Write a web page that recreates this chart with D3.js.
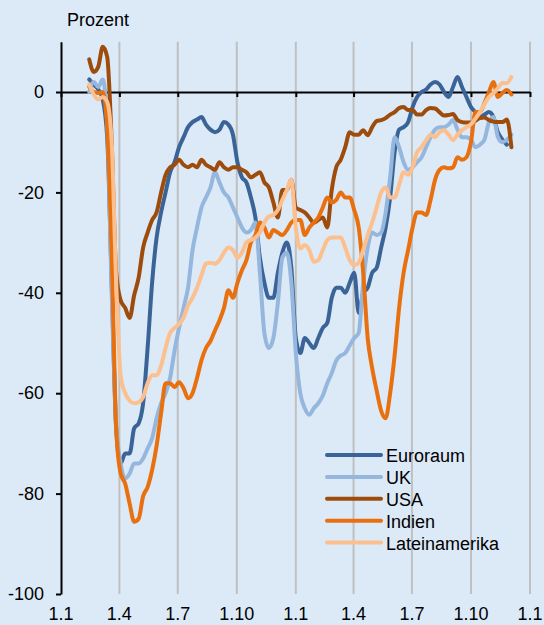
<!DOCTYPE html>
<html>
<head>
<meta charset="utf-8">
<script src="https://cdn.jsdelivr.net/npm/d3@7"></script>
<style>
  body { margin: 0; background: #dce9f7; }
  svg { display: block; font-family: "Liberation Sans", Arial, sans-serif; }
</style>
</head>
<body>
<div id="visual"></div>
<script>
// weekly dates (7-day averages)
const weeks = [
  "2020-02-14","2020-02-21","2020-02-28","2020-03-06","2020-03-13","2020-03-20","2020-03-27","2020-04-03","2020-04-10","2020-04-17",
  "2020-04-24","2020-05-01","2020-05-08","2020-05-15","2020-05-22","2020-05-29","2020-06-05","2020-06-12","2020-06-19","2020-06-26",
  "2020-07-03","2020-07-10","2020-07-17","2020-07-24","2020-07-31","2020-08-07","2020-08-14","2020-08-21","2020-08-28","2020-09-04",
  "2020-09-11","2020-09-18","2020-09-25","2020-10-02","2020-10-09","2020-10-16","2020-10-23","2020-10-30","2020-11-06","2020-11-13",
  "2020-11-20","2020-11-27","2020-12-04","2020-12-11","2020-12-18","2020-12-25","2021-01-01","2021-01-08","2021-01-15","2021-01-22",
  "2021-01-29","2021-02-05","2021-02-12","2021-02-19","2021-02-26","2021-03-05","2021-03-12","2021-03-19","2021-03-26","2021-04-02",
  "2021-04-09","2021-04-16","2021-04-23","2021-04-30","2021-05-07","2021-05-14","2021-05-21","2021-05-28","2021-06-04","2021-06-11",
  "2021-06-18","2021-06-25","2021-07-02","2021-07-09","2021-07-16","2021-07-23","2021-07-30","2021-08-06","2021-08-13","2021-08-20",
  "2021-08-27","2021-09-03","2021-09-10","2021-09-17","2021-09-24","2021-10-01","2021-10-08","2021-10-15","2021-10-22","2021-10-29",
  "2021-11-05","2021-11-12","2021-11-19","2021-11-26","2021-12-03","2021-12-10"
];

const euroraum = [
  2.5,1.5,0.5,-1.5,-9,-38,-67,-74,-72,-72,
  -67,-66,-62,-51,-38,-29,-24,-20,-16,-14,
  -11,-9,-7,-6,-5.5,-5,-6.5,-7.5,-8,-7.5,
  -6,-6.5,-8.5,-14,-17,-18,-21,-25,-33,-38,
  -41,-41,-36,-32,-30,-35,-49,-52,-49,-50,
  -51,-49,-47,-46,-41,-39,-39,-40,-38,-36,
  -44,-40,-39,-36,-35,-31,-27,-21,-12,-7.5,
  -7,-6,-3,-1,0,0.5,1.5,2,1.5,0,
  -1,1,3,1,-1,-3,-4,-5,-4.5,-4,
  -5,-8,-9.5,-10.5,null,null
];
const uk = [
  0,2,1,2.5,-6,-40,-66,-74,-77,-76,
  -74,-74,-73,-71,-69,-65,-62,-60,-57,-51.5,
  -47,-43,-39,-31.5,-27,-23,-21,-19,-16,-18,
  -20,-21,-23,-25,-27,-28,-27.5,-26,-36,-48,
  -51,-49,-42,-33,-32,-38,-52,-60,-63,-64.3,
  -63,-62,-60.5,-58,-56,-53.5,-52.5,-52,-50.5,-49,
  -48,-38,-31,-28,-28.5,-28,-24,-17,-9,-11,
  -14,-15.5,-15,-14,-13,-11,-9,-7.5,-7,-7,
  -6.5,-5.6,-7.5,-9,-9,-9.5,-11,-10.5,-9.5,-6,
  -5,-9,-10,-9.5,-8.5,null
];
const usa = [
  6.5,4,5,9,7,-10,-36,-41.5,-43,-45,
  -40.5,-37,-31,-28,-25.5,-24,-20,-16.5,-15,-14.5,
  -13.5,-14.5,-15,-14.5,-15,-13.5,-14.5,-15,-15.5,-14,
  -15,-15.5,-15,-15,-15.5,-16,-17,-16.5,-16,-18,
  -19,-22,-25,-19.5,-19.5,-17.5,-23,-23.5,-24,-25,
  -26,-25.5,-25,-27,-19.5,-15,-13.5,-11,-8,-8.5,
  -8.5,-7.6,-8.6,-7,-5.8,-5.6,-5.2,-4.5,-4,-3.2,
  -3,-3.6,-3.6,-4.5,-4.5,-3.6,-3.2,-3.3,-4,-4.7,
  -4.6,-4.4,-5.6,-6,-6.1,-6.1,-5.7,-5.2,-5.1,-5.6,
  -5.9,-6,-6,-5.5,-11,null
];
const indien = [
  1,0,-0.2,0,-7,-32,-67,-76,-78,-82,
  -85.6,-85,-80.5,-78.7,-75.3,-70.5,-64,-58,-58,-58.8,
  -57.8,-59,-61,-60,-57,-53.4,-51,-49.6,-47.5,-45.5,
  -43,-39.5,-41,-38,-35.5,-33.5,-30,-28.5,-26,-27,
  -29,-27.5,-28,-28.5,-27.5,-26,-25.5,-25.5,-28.5,-27,
  -26,-25,-23,-21,-22,-21.5,-20,-21,-21,-23.5,
  -27,-36,-49,-55,-59.5,-63.5,-65,-60,-52.5,-43,
  -36,-31.5,-27,-24,-24,-24.5,-21.5,-17.5,-15.5,-15,
  -15.2,-15,-13,-13.5,-13,-10,-4,-4,-2.2,0,
  2,-1,-0.2,0.4,-0.5,null
];
const lateinamerika = [
  1.5,-0.5,-1.5,-1,-2,-10,-38,-56.5,-60,-61.5,
  -62,-61.8,-60.8,-58,-56.4,-56.4,-54.5,-51,-48,-47,
  -46.2,-45,-42.5,-41,-39,-36.5,-34.2,-34,-34.2,-33.5,
  -32,-31,-31.5,-33,-32,-30,-29.5,-29,-28,-26,
  -24.8,-24.5,-23.5,-21.5,-19.5,-17.5,-27,-31.2,-30.5,-31.5,
  -33.8,-33.5,-31.5,-29.5,-29,-29,-29,-31,-33.5,-34.5,
  -34,-31.5,-28.5,-26,-23,-20,-19,-21,-21,-18.5,
  -16,-16.5,-15,-12,-11,-9.6,-8.5,-9,-8,-7.6,
  -8.5,-9.6,-8.5,-7.6,-7,-6.4,-5.3,-4,-2.4,-1,
  -0.2,0.8,1.8,1.8,3,null
];

const seriesNames = ["Euroraum", "UK", "USA", "Indien", "Lateinamerika"];
const seriesValues = [euroraum, uk, usa, indien, lateinamerika];
const seriesColors = ["#3a6497", "#95b7de", "#9e4c0c", "#e8700f", "#fcc08f"];

const yTicks = [0, -20, -40, -60, -80, -100];
const xTicks = ["2020-01-01","2020-04-01","2020-07-01","2020-10-01","2021-01-01","2021-04-01","2021-07-01","2021-10-01","2022-01-01"];
const xTickLabels = ["1.1","1.4","1.7","1.10","1.1","1.4","1.7","1.10","1.1"];

const parse = d3.timeParse("%Y-%m-%d");
const dates = weeks.map(parse);
const tickDates = xTicks.map(parse);

const width = 544, height = 625;

const svg = d3.select("#visual")
    .append("svg")
    .attr("width", width)
    .attr("height", height);

// scales
const x = d3.scaleTime()
    .domain([tickDates[0], tickDates[tickDates.length - 1]])
    .range([61, 530]);

const y = d3.scaleLinear()
    .domain([-100, 10])
    .range([594, 41.8]);

// vertical grid lines at each quarter
svg.append("g")
    .selectAll("line")
    .data(tickDates.slice(1))
    .enter()
    .append("line")
    .attr("x1", d => x(d))
    .attr("x2", d => x(d))
    .attr("y1", y(10))
    .attr("y2", y(-100))
    .attr("stroke", "#c0c0c0")
    .attr("stroke-width", 2);

// y axis
const yAxis = svg.append("g")
    .attr("transform", "translate(" + x(tickDates[0]) + ",0)")
    .call(d3.axisLeft(y).tickValues(yTicks).tickSize(5).tickSizeOuter(0).tickPadding(12)
        .tickFormat(d => String(d)));
yAxis.selectAll("path, line").attr("stroke", "#000").attr("stroke-width", 2);
yAxis.selectAll("text").attr("font-size", 18).attr("font-family", null).attr("fill", "#000");

// x axis on the zero line
const xAxis = svg.append("g")
    .attr("transform", "translate(0," + y(0) + ")")
    .call(d3.axisBottom(x).tickValues(tickDates).tickSize(5).tickSizeOuter(0).tickFormat(""));
xAxis.selectAll("path, line").attr("stroke", "#000").attr("stroke-width", 2);

// x tick labels at the bottom
svg.append("g")
    .selectAll("text")
    .data(tickDates)
    .enter()
    .append("text")
    .attr("x", d => x(d))
    .attr("y", 620)
    .attr("text-anchor", "middle")
    .attr("font-size", 18)
    .text((d, i) => xTickLabels[i]);

// unit label
svg.append("text")
    .attr("x", 67)
    .attr("y", 26)
    .attr("font-size", 18)
    .text("Prozent");

// lines
const line = d3.line()
    .defined(d => d != null)
    .x((d, i) => x(dates[i]))
    .y(d => y(d))
    .curve(d3.curveMonotoneX);

svg.append("g")
    .selectAll("path")
    .data(seriesValues)
    .enter()
    .append("path")
    .attr("d", d => line(d))
    .attr("fill", "none")
    .attr("stroke", (d, i) => seriesColors[i])
    .attr("stroke-width", 4)
    .attr("stroke-linejoin", "round")
    .attr("stroke-linecap", "round");

// legend
const legend = svg.append("g")
    .selectAll("g")
    .data(seriesNames)
    .enter()
    .append("g")
    .attr("transform", (d, i) => "translate(327," + (455 + i * 21.9) + ")");

legend.append("line")
    .attr("x1", 0)
    .attr("x2", 54)
    .attr("stroke", (d, i) => seriesColors[i])
    .attr("stroke-width", 4)
    .attr("stroke-linecap", "round");

legend.append("text")
    .attr("x", 59)
    .attr("y", 7)
    .attr("font-size", 18)
    .text(d => d);
</script>
</body>
</html>
